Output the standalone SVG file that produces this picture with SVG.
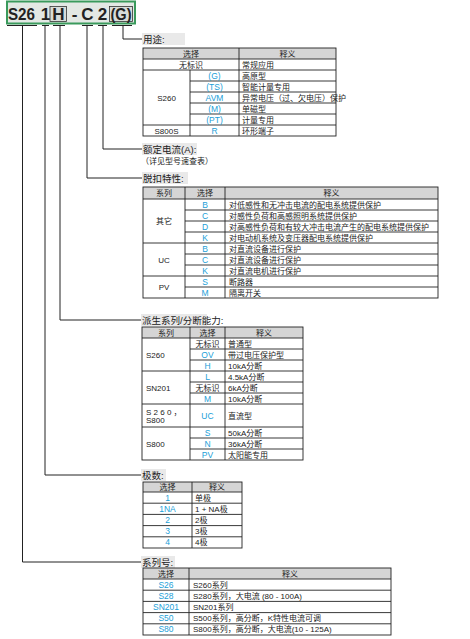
<svg xmlns="http://www.w3.org/2000/svg" width="470" height="639" viewBox="0 0 470 639">
<style>
.t{font-family:"Liberation Sans","Noto Sans CJK SC",sans-serif;font-size:8px;fill:#222}
.c{text-anchor:middle}
.b{fill:#22a0d8;font-size:8.5px}
.lbl{font-size:9.5px}
.grid{stroke:#222;stroke-width:0.9;fill:none}
.hdr{fill:#d5d5d5}
.lbg{fill:#e9e9e9}
.conn{stroke:#222;stroke-width:1;fill:none}
.pn{font-family:"Liberation Sans",sans-serif;font-size:17px;font-weight:bold;fill:#222}
</style>
<rect width="470" height="639" fill="#fff"/>

<g id="part-number">
<rect x="7" y="1.5" width="128" height="22" fill="#e3e8e4" stroke="#3a9a5c" stroke-width="2"/>
<rect x="50" y="6.5" width="16.5" height="15" fill="#d8dcd9" stroke="#333" stroke-width="0.8"/>
<rect x="109.5" y="6.5" width="23" height="15" fill="#d8dcd9" stroke="#333" stroke-width="0.8"/>
<text class="pn" x="8" y="19.5" textLength="27" lengthAdjust="spacingAndGlyphs">S26</text>
<text class="pn c" x="45.5" y="19.5">1</text>
<text class="pn c" x="58.3" y="19.5">H</text>
<text class="pn c" x="74.5" y="19.5">-</text>
<text class="pn c" x="87.5" y="19.5">C</text>
<text class="pn c" x="102.5" y="19.5">2</text>
<text class="pn c" x="121" y="19.5" textLength="21" lengthAdjust="spacingAndGlyphs">(G)</text>
</g>

<g id="connectors" class="conn">
<path d="M7 25.5H37M42 25.5H49M53 25.5H65M82 25.5H93M98 25.5H107M112 25.5H132"/>
<path d="M123 25.5V39H142"/>
<path d="M103 25.5V149H142"/>
<path d="M87 25.5V178H142"/>
<path d="M60 25.5V320H141"/>
<path d="M45 25.5V475H141"/>
<path d="M22.5 25.5V562H141"/>
</g>

<g id="label-usage">
<rect class="lbg" x="142" y="33" width="43" height="12"/>
<text class="t lbl" x="143" y="42.5">用途:</text>
</g>

<g id="table-usage">
<rect class="hdr" x="143" y="48" width="193" height="11"/>
<rect class="grid" x="143" y="48" width="193" height="88"/>
<path class="grid" d="M143 59H336M143 70H336M143 125H336M190 81H336M190 92H336M190 103H336M190 114H336M239 48V136M190 70V136"/>
<text class="t c" x="191" y="56.5">选择</text>
<text class="t c" x="287.5" y="56.5">释义</text>
<text class="t c" x="191" y="67.5">无标识</text>
<text class="t" x="242" y="67.5">常规应用</text>
<text class="t c" x="166.5" y="100.5">S260</text>
<text class="t c b" x="214.5" y="78.5">(G)</text>
<text class="t c b" x="214.5" y="89.5">(TS)</text>
<text class="t c b" x="214.5" y="100.5">AVM</text>
<text class="t c b" x="214.5" y="111.5">(M)</text>
<text class="t c b" x="214.5" y="122.5">(PT)</text>
<text class="t" x="242" y="78.5">高原型</text>
<text class="t" x="242" y="89.5">智能计量专用</text>
<text class="t" x="242" y="100.5">异常电压（过、欠电压）保护</text>
<text class="t" x="242" y="111.5">单磁型</text>
<text class="t" x="242" y="122.5">计量专用</text>
<text class="t c" x="166.5" y="133.5">S800S</text>
<text class="t c b" x="214.5" y="133.5">R</text>
<text class="t" x="242" y="133.5">环形端子</text>
</g>

<g id="label-current">
<rect class="lbg" x="142" y="143" width="55" height="12"/>
<text class="t lbl" x="143" y="152.5">额定电流(A):</text>
<text class="t" x="141" y="163.5">（详见型号速查表）</text>
</g>

<g id="label-trip">
<rect class="lbg" x="142" y="172" width="46" height="12"/>
<text class="t lbl" x="143" y="181.5">脱扣特性:</text>
</g>

<g id="table-trip">
<rect class="hdr" x="143" y="187" width="295" height="12"/>
<rect class="grid" x="143" y="187" width="295" height="111"/>
<path class="grid" d="M143 199H438M143 243H438M143 276H438M185 210H438M185 221H438M185 232H438M185 254H438M185 265H438M185 287H438M185 187V298M225 187V298"/>
<text class="t c" x="164" y="196">系列</text>
<text class="t c" x="205" y="196">选择</text>
<text class="t c" x="331.5" y="196">释义</text>
<text class="t c" x="164" y="224">其它</text>
<text class="t c" x="164" y="262.5">UC</text>
<text class="t c" x="164" y="290">PV</text>
<text class="t c b" x="205" y="207.5">B</text>
<text class="t c b" x="205" y="218.5">C</text>
<text class="t c b" x="205" y="229.5">D</text>
<text class="t c b" x="205" y="240.5">K</text>
<text class="t c b" x="205" y="251.5">B</text>
<text class="t c b" x="205" y="262.5">C</text>
<text class="t c b" x="205" y="273.5">K</text>
<text class="t c b" x="205" y="284.5">S</text>
<text class="t c b" x="205" y="295.5">M</text>
<text class="t" x="229" y="207.5">对低感性和无冲击电流的配电系统提供保护</text>
<text class="t" x="229" y="218.5">对感性负荷和高感照明系统提供保护</text>
<text class="t" x="229" y="229.5">对高感性负荷和有较大冲击电流产生的配电系统提供保护</text>
<text class="t" x="229" y="240.5">对电动机系统及变压器配电系统提供保护</text>
<text class="t" x="229" y="251.5">对直流设备进行保护</text>
<text class="t" x="229" y="262.5">对直流设备进行保护</text>
<text class="t" x="229" y="273.5">对直流电机进行保护</text>
<text class="t" x="229" y="284.5">断路器</text>
<text class="t" x="229" y="295.5">隔离开关</text>
</g>

<g id="label-derived">
<rect class="lbg" x="141" y="314" width="66" height="12"/>
<text class="t lbl" x="142" y="323.5">派生系列/分断能力:</text>
</g>

<g id="table-derived">
<rect class="hdr" x="142" y="327" width="161" height="11"/>
<rect class="grid" x="142" y="327" width="161" height="133"/>
<path class="grid" d="M142 338H303M142 371H303M142 404H303M142 427H303M190 349H303M190 360H303M190 382H303M190 393H303M190 438H303M190 449H303M190 327V460M225 327V460"/>
<text class="t c" x="166" y="335.5">系列</text>
<text class="t c" x="207.5" y="335.5">选择</text>
<text class="t c" x="264" y="335.5">释义</text>
<text class="t" x="146" y="357.5">S260</text>
<text class="t" x="146" y="390.5">SN201</text>
<text class="t" x="146" y="415">S 2 6 0 ，</text>
<text class="t" x="146" y="423">S800</text>
<text class="t" x="146" y="446.5">S800</text>
<text class="t c" x="207.5" y="346.5">无标识</text>
<text class="t c b" x="207.5" y="357.5">OV</text>
<text class="t c b" x="207.5" y="368.5">H</text>
<text class="t c b" x="207.5" y="379.5">L</text>
<text class="t c" x="207.5" y="390.5">无标识</text>
<text class="t c b" x="207.5" y="401.5">M</text>
<text class="t c b" x="207.5" y="418.5">UC</text>
<text class="t c b" x="207.5" y="435.5">S</text>
<text class="t c b" x="207.5" y="446.5">N</text>
<text class="t c b" x="207.5" y="457.5">PV</text>
<text class="t" x="228" y="346.5">普通型</text>
<text class="t" x="228" y="357.5">带过电压保护型</text>
<text class="t" x="228" y="368.5">10kA分断</text>
<text class="t" x="228" y="379.5">4.5kA分断</text>
<text class="t" x="228" y="390.5">6kA分断</text>
<text class="t" x="228" y="401.5">10kA分断</text>
<text class="t" x="228" y="418.5">直流型</text>
<text class="t" x="228" y="435.5">50kA分断</text>
<text class="t" x="228" y="446.5">36kA分断</text>
<text class="t" x="228" y="457.5">太阳能专用</text>
</g>

<g id="label-poles">
<rect class="lbg" x="141" y="469" width="25" height="12"/>
<text class="t lbl" x="142" y="478.5">极数:</text>
</g>

<g id="table-poles">
<rect class="hdr" x="143" y="482" width="99" height="10"/>
<rect class="grid" x="143" y="482" width="99" height="66"/>
<path class="grid" d="M143 492H242M143 503.2H242M143 514.4H242M143 525.6H242M143 536.8H242M192 482V548"/>
<text class="t c" x="167.5" y="490">选择</text>
<text class="t c" x="217" y="490">释义</text>
<text class="t c b" x="167.5" y="500.6">1</text>
<text class="t c b" x="167.5" y="511.8">1NA</text>
<text class="t c b" x="167.5" y="523">2</text>
<text class="t c b" x="167.5" y="534.2">3</text>
<text class="t c b" x="167.5" y="545.4">4</text>
<text class="t" x="195" y="500.6">单极</text>
<text class="t" x="195" y="511.8">1 + NA极</text>
<text class="t" x="195" y="523">2极</text>
<text class="t" x="195" y="534.2">3极</text>
<text class="t" x="195" y="545.4">4极</text>
</g>

<g id="label-series">
<rect class="lbg" x="141" y="556" width="34" height="12"/>
<text class="t lbl" x="142" y="565.5">系列号:</text>
</g>

<g id="table-series">
<rect class="hdr" x="143" y="568" width="248" height="11"/>
<rect class="grid" x="143" y="568" width="248" height="67"/>
<path class="grid" d="M143 579H391M143 590.2H391M143 601.4H391M143 612.6H391M143 623.8H391M189 568V635"/>
<text class="t c" x="166" y="576.5">选择</text>
<text class="t c" x="290" y="576.5">释义</text>
<text class="t c b" x="166" y="587.6">S26</text>
<text class="t c b" x="166" y="598.8">S28</text>
<text class="t c b" x="166" y="610">SN201</text>
<text class="t c b" x="166" y="621.2">S50</text>
<text class="t c b" x="166" y="632.4">S80</text>
<text class="t" x="193" y="587.6">S260系列</text>
<text class="t" x="193" y="598.8">S280系列，大电流 (80 - 100A)</text>
<text class="t" x="193" y="610">SN201系列</text>
<text class="t" x="193" y="621.2">S500系列，高分断，K特性电流可调</text>
<text class="t" x="193" y="632.4">S800系列，高分断，大电流(10 - 125A)</text>
</g>
</svg>
